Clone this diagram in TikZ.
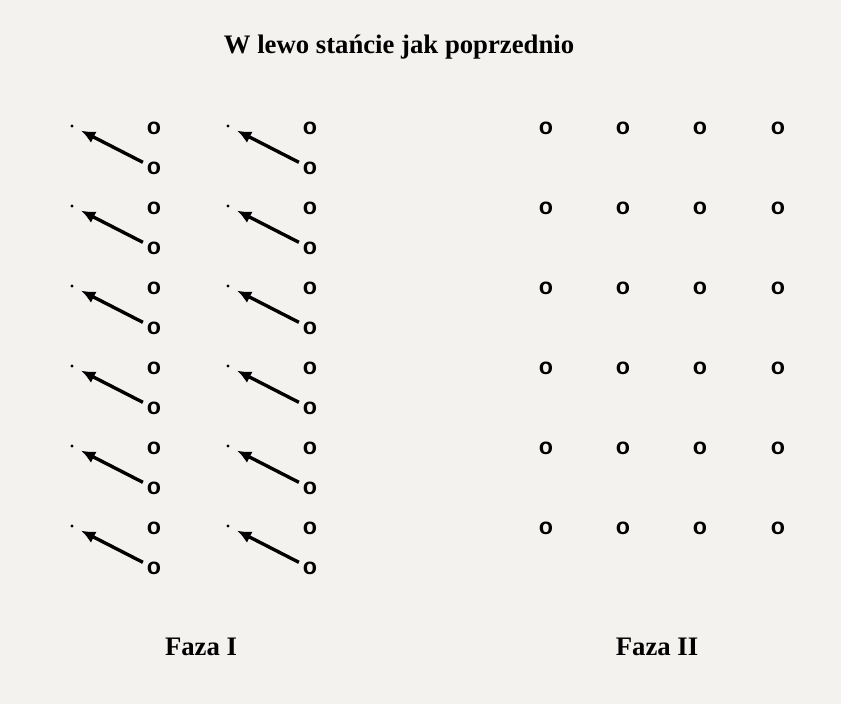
\documentclass[tikz,border=0pt]{standalone}
\usepackage{fontspec}
\setmainfont{Liberation Serif}
\newfontfamily\spotfont{Liberation Sans}
\usetikzlibrary{positioning,arrows.meta,calc}
\definecolor{paper}{RGB}{243,242,239}
\tikzset{
    place/.style = {
        font=\spotfont\bfseries\fontsize{16.5}{16.5}\selectfont,
        inner sep=0pt
    },
    heading/.style = {
        font=\bfseries\fontsize{19}{19}\selectfont,
        inner sep=0pt
    },
    spot/.style = {
        shape=circle,
        fill=black,
        inner sep=0pt,
        minimum size=2.2pt
    },
    move/.style = {
        ->,
        line width=2.4pt,
        shorten >=6pt,
        shorten <=3pt
    },
    >={Latex[length=10pt,width=9pt]},
}

\begin{document}
\begin{tikzpicture}[x=0.025cm, y=-0.025cm]
        \fill[paper] (0,0) rectangle (841,704);
        \node[heading] (title) at (399,47) {W lewo stańcie jak poprzednio};

        % Faza I
        \foreach \c/\x in {0/0, 1/156} {
            \foreach \r in {0,...,5} {
                \node[spot] (dot-\c-\r) at ({72+\x},{126+80*\r}) {};
                \node[place] (up-\c-\r) at ({154+\x},{128+80*\r}) {o};
                \node[place] (low-\c-\r) at ({154+\x},{168+80*\r}) {o};
                \draw[move] (low-\c-\r) -- (dot-\c-\r);
            }
        }

        % Faza II
        \foreach \c/\x in {0/546, 1/623, 2/700, 3/778} {
            \foreach \r in {0,...,5} {
                \node[place] (ring-\c-\r) at (\x,{128+80*\r}) {o};
            }
        }

        \node[heading] (phase1) at (201,647) {Faza I};
        \node[heading] (phase2) at (657,647) {Faza II};
    \end{tikzpicture}
\end{document}
